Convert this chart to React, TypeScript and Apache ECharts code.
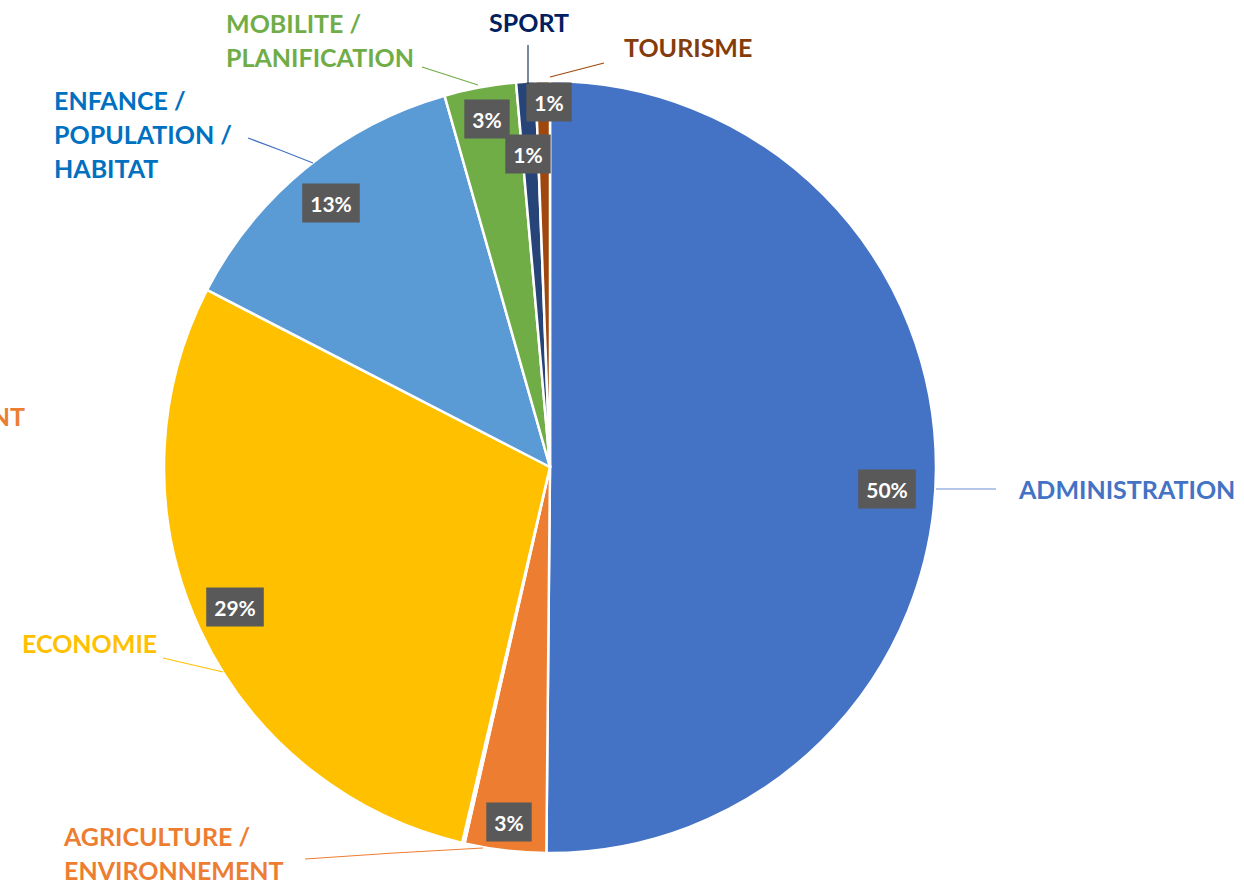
import React, { useEffect, useRef } from "react";
import * as echarts from "echarts";

const categories = [
  "ADMINISTRATION",
  "AGRICULTURE /\nENVIRONNEMENT",
  "ASSAINISSEMENT",
  "ECONOMIE",
  "ENFANCE /\nPOPULATION /\nHABITAT",
  "MOBILITE /\nPLANIFICATION",
  "SPORT",
  "TOURISME",
];
const values = [50.1, 3.4, 0.1, 28.9, 13.0, 3.0, 0.8, 0.6];
const sliceColors = ["#4472C4", "#ED7D31", "#A5A5A5", "#FFC000", "#5B9BD5", "#70AD47", "#264478", "#9E480E"];
const labelColors = ["#4472C4", "#ED7D31", "#ED7D31", "#FFC000", "#0070C0", "#70AD47", "#002060", "#843C0C"];
const lineColors = ["#6F92D4", "#ED7D31", "#ED7D31", "#FFC000", "#4472C4", "#70AD47", "#1F3864", "#9E480E"];

// layout: percentage box centres
const pctPos: [number, number][] = [
  [887, 489], [509, 822], [0, 0], [235, 607], [331, 203], [487, 119], [528, 154], [549, 102],
];
// layout: category label anchors [x, y, align]
const namePos: [number, number, string][] = [
  [1019, 489, "left"],
  [64, 853, "left"],
  [25, 416, "right"],
  [22, 643, "left"],
  [54, 134, "left"],
  [226, 40, "left"],
  [489, 22, "left"],
  [624, 47, "left"],
];
// layout: leader lines for category labels
const nameLines: ([number, number][] | null)[] = [
  [[936, 489], [966, 489], [996, 489]],
  [[483, 848], [394, 853], [305, 859]],
  null,
  [[223, 672], [193, 665], [163, 658]],
  [[313, 163], [280, 150], [248, 138]],
  [[478, 85], [450, 76], [422, 67]],
  [[528, 84], [528, 64], [528, 45]],
  [[550, 77], [577, 70], [604, 63]],
];
// layout: leader lines for percentage labels
const pctLines: ([number, number][] | null)[] = [
  null,
  [[510, 797], [509, 782], [508, 767]],
  null,
  null,
  null,
  null,
  [[544, 117], [544, 99], [544, 81]],
  null,
];

export default function App() {
  const ref = useRef<HTMLDivElement>(null);
  useEffect(() => {
    document.body.style.margin = "0";
    const chart = echarts.init(ref.current!, undefined, { renderer: "svg" });
    const font = "Lato, 'Open Sans', sans-serif";
    const pctData = categories.map((c, i) => ({
      name: c,
      value: values[i],
      itemStyle: { color: sliceColors[i] },
      label: { show: i !== 2 },
      labelLine: {
        show: !!pctLines[i],
        lineStyle: { color: i === 1 ? "#4472C4" : lineColors[i], width: 1.2 },
      },
    }));
    const nameData = categories.map((c, i) => ({
      name: c,
      value: values[i],
      label: { color: labelColors[i] },
      labelLine: { show: !!nameLines[i], lineStyle: { color: lineColors[i], width: 1.2 } },
    }));
    chart.setOption({
      animation: false,
      backgroundColor: "#ffffff",
      series: [
        {
          type: "pie",
          center: [550, 467],
          radius: 386,
          startAngle: 90,
          clockwise: true,
          avoidLabelOverlap: false,
          silent: true,
          itemStyle: { borderColor: "#ffffff", borderWidth: 2.5 },
          label: {
            show: true,
            position: "outside",
            formatter: (p: any) => Math.round(p.percent) + "%",
            color: "#ffffff",
            fontWeight: "bold",
            fontSize: 21,
            fontFamily: font,
            backgroundColor: "#595959",
            padding: [8, 8, 7, 8],
            lineHeight: 24,
          },
          labelLine: { show: true, length: 5, length2: 5 },
          labelLayout: (p: any) => {
            const i = p.dataIndex;
            const r: any = { x: pctPos[i][0], y: pctPos[i][1], align: "center", verticalAlign: "middle" };
            if (pctLines[i]) r.labelLinePoints = pctLines[i];
            return r;
          },
          data: pctData,
          z: 2,
        },
        {
          type: "pie",
          center: [550, 467],
          radius: 386,
          startAngle: 90,
          clockwise: true,
          avoidLabelOverlap: false,
          silent: true,
          itemStyle: { color: "rgba(0,0,0,0)", borderWidth: 0 },
          label: {
            show: true,
            position: "outside",
            formatter: "{b}",
            fontWeight: "bold",
            fontSize: 25,
            fontFamily: font,
            lineHeight: 34,
          },
          labelLine: { show: true },
          labelLayout: (p: any) => {
            const i = p.dataIndex;
            const r: any = { x: namePos[i][0], y: namePos[i][1], align: namePos[i][2], verticalAlign: "middle" };
            if (nameLines[i]) r.labelLinePoints = nameLines[i];
            return r;
          },
          data: nameData,
          z: 3,
        },
      ],
    });
    return () => chart.dispose();
  }, []);
  return <div ref={ref} style={{ width: 1244, height: 885 }} />;
}
